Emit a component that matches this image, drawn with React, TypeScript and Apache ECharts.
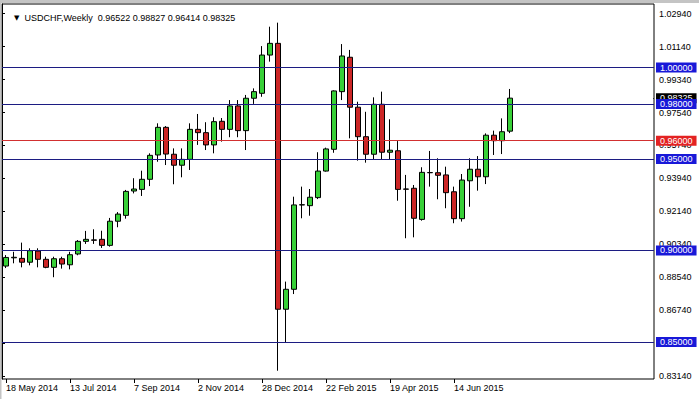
import React, { useEffect, useRef } from "react";
import * as echarts from "echarts";

// Weekly USDCHF candles, first week 18 May 2014
const opens = [
  0.8915, 0.8960, 0.8957, 0.8936, 0.8997, 0.8952, 0.8908, 0.8955, 0.8922, 0.8981,
  0.9050, 0.9058, 0.9061, 0.9028, 0.9160, 0.9192, 0.9325, 0.9334, 0.9389, 0.9522,
  0.9673, 0.9526, 0.9466, 0.9498, 0.9662, 0.9644, 0.9577, 0.9706, 0.9662, 0.9790,
  0.9655, 0.9832, 0.9859, 1.0068, 1.0132, 0.8679, 0.8788, 0.9249, 0.9245, 0.9289,
  0.9434, 0.9553, 0.9868, 1.0056, 0.9783, 0.9622, 0.9526, 0.9799, 0.9537, 0.9545,
  0.9336, 0.9340, 0.9170, 0.9425, 0.9425, 0.9413, 0.9321, 0.9174, 0.9381, 0.9444,
  0.9403, 0.9630, 0.9600, 0.96522,
];
const highs = [
  0.8975, 0.8993, 0.9043, 0.9012, 0.9012, 0.8966, 0.8966, 0.8966, 0.8993, 0.9057,
  0.9107, 0.9116, 0.9108, 0.9178, 0.9210, 0.9331, 0.9395, 0.9436, 0.9531, 0.9695,
  0.9680, 0.9558, 0.9558, 0.9695, 0.9746, 0.9701, 0.9728, 0.9724, 0.9822, 0.9822,
  0.9850, 0.9886, 1.0117, 1.0223, 1.0245, 0.8830, 0.9294, 0.9349, 0.9336, 0.9537,
  0.9562, 0.9875, 1.0128, 1.0096, 0.9813, 0.9758, 0.9837, 0.9868, 0.9717, 0.9598,
  0.9413, 0.9358, 0.9455, 0.9544, 0.9504, 0.9458, 0.9349, 0.9418, 0.9504, 0.9516,
  0.9640, 0.9655, 0.9722, 0.98827,
];
const lows = [
  0.8904, 0.8930, 0.8908, 0.8919, 0.8908, 0.8903, 0.8854, 0.8901, 0.8897, 0.8974,
  0.9036, 0.9036, 0.9014, 0.9021, 0.9127, 0.9174, 0.9312, 0.9298, 0.9352, 0.9485,
  0.9467, 0.9362, 0.9400, 0.9440, 0.9577, 0.9549, 0.9531, 0.9595, 0.9619, 0.9619,
  0.9549, 0.9801, 0.9840, 1.0032, 0.8343, 0.8496, 0.8762, 0.9176, 0.9190, 0.9281,
  0.9431, 0.9534, 0.9822, 0.9613, 0.9491, 0.9480, 0.9495, 0.9495, 0.9498, 0.9272,
  0.9067, 0.9072, 0.9163, 0.9349, 0.9280, 0.9231, 0.9149, 0.9158, 0.9239, 0.9327,
  0.9363, 0.9522, 0.9527, 0.96414,
];
const closes = [
  0.8962, 0.8963, 0.8936, 0.8999, 0.8952, 0.8908, 0.8955, 0.8926, 0.8977, 0.9050,
  0.9061, 0.9056, 0.9028, 0.9160, 0.9199, 0.9323, 0.9336, 0.9389, 0.9520, 0.9673,
  0.9527, 0.9466, 0.9498, 0.9662, 0.9644, 0.9577, 0.9704, 0.9662, 0.9790, 0.9655,
  0.9832, 0.9868, 1.0068, 1.0132, 0.8679, 0.8788, 0.9249, 0.9250, 0.9291, 0.9434,
  0.9555, 0.9872, 1.0063, 0.9783, 0.9622, 0.9526, 0.9799, 0.9537, 0.9548, 0.9334,
  0.9335, 0.9176, 0.9427, 0.9426, 0.9411, 0.9316, 0.9174, 0.9385, 0.9444, 0.9403,
  0.9630, 0.9600, 0.9649, 0.98325,
];

const priceTicks = [
  0.8314, 0.8494, 0.8674, 0.8854, 0.9034, 0.9214, 0.9394, 0.9574, 0.9754, 0.9934,
  1.0114, 1.0294,
];
const blueLevels = [1.0, 0.98, 0.95, 0.9, 0.85];
const redLevels = [0.96];
const currentPrice = 0.98325;
const headerText = "USDCHF,Weekly  0.96522 0.98827 0.96414 0.98325";

const MONTHS = ["Jan", "Feb", "Mar", "Apr", "May", "Jun", "Jul", "Aug", "Sep", "Oct", "Nov", "Dec"];
const TOTAL_SLOTS = 82; // includes empty right shift area
const startDate = Date.UTC(2014, 4, 18);
const categories: string[] = [];
for (let i = 0; i < TOTAL_SLOTS; i++) {
  const d = new Date(startDate + i * 7 * 86400000);
  categories.push(`${d.getUTCDate()} ${MONTHS[d.getUTCMonth()]} ${d.getUTCFullYear()}`);
}

const FONT = "Liberation Sans";
const Y_MIN = 0.82978;
const Y_MAX = 1.0347;

export default function App() {
  const ref = useRef<HTMLDivElement>(null);
  useEffect(() => {
    if (!ref.current) return;
    const chart = echarts.init(ref.current, undefined, { renderer: "svg" });
    const candleData = opens.map((o, i) => [o, closes[i], lows[i], highs[i]]);
    const nBars = opens.length;

    const levelLabel = (bg: string, fmt?: (p: any) => string) => ({
      show: true,
      position: "end",
      distance: 2,
      formatter: fmt || ((p: any) => Number(p.value).toFixed(5)),
      color: "#fff",
      backgroundColor: bg,
      opacity: 1,
      fontFamily: FONT,
      fontSize: 9,
      lineHeight: 9,
      padding: [1, 4, 0, 4],
    });

    const levelData: any[] = [
      ...redLevels.map((v) => ({
        yAxis: v,
        lineStyle: { color: "#d23030", width: 1, type: "solid" },
        label: levelLabel("#e32222"),
      })),
      ...blueLevels.map((v) => ({
        yAxis: v,
        lineStyle: { color: "#1c1c82", width: 1, type: "solid" },
        label: levelLabel("#1818d8"),
      })),
    ];

    chart.setOption({
      animation: false,
      backgroundColor: "#ffffff",
      title: {
        left: 9,
        top: 8,
        text: "{a|▼}  " + headerText,
        textStyle: {
          fontFamily: FONT,
          fontSize: 9,
          fontWeight: "normal",
          color: "#000",
          rich: { a: { fontSize: 7, color: "#000", fontFamily: "DejaVu Sans" } },
        },
      },
      graphic: [
        { type: "rect", shape: { x: 0, y: 0, width: 699, height: 3 }, style: { fill: "#c4c4c4" }, silent: true },
        { type: "rect", shape: { x: 0, y: 0, width: 1.5, height: 399 }, style: { fill: "#c4c4c4" }, silent: true },
      ],
      grid: [
        { left: 2, top: 4, width: 8 * TOTAL_SLOTS, height: 375, outerBoundsMode: "none", containLabel: false },
        {
          left: 2,
          top: 4,
          width: 652,
          height: 375,
          outerBoundsMode: "none",
          containLabel: false,
          show: true,
          borderColor: "#000",
          borderWidth: 1,
          backgroundColor: "transparent",
        },
      ],
      xAxis: [
        {
          type: "category",
          gridIndex: 0,
          data: categories,
          boundaryGap: true,
          axisLine: { show: false },
          axisTick: {
            show: true,
            alignWithLabel: true,
            length: 4,
            interval: (i: number) => i % 8 === 0 && i < nBars,
            lineStyle: { color: "#000" },
          },
          axisLabel: {
            show: true,
            interval: (i: number) => i % 8 === 0 && i < nBars,
            align: "left",
            margin: 4,
            color: "#000",
            fontFamily: FONT,
            fontSize: 9,
          },
          splitLine: { show: false },
        },
        { type: "value", gridIndex: 1, min: 0, max: 1, show: false },
      ],
      yAxis: [
        { type: "value", gridIndex: 0, min: Y_MIN, max: Y_MAX, show: false, scale: true },
        {
          type: "value",
          gridIndex: 1,
          position: "right",
          min: Y_MIN,
          max: Y_MAX,
          scale: true,
          splitLine: { show: false },
          axisLine: { show: true, lineStyle: { color: "#000" } },
          axisTick: {
            show: true,
            length: 3,
            customValues: priceTicks,
            lineStyle: { color: "#000" },
          },
          axisLabel: {
            show: true,
            customValues: priceTicks,
            formatter: (v: number) => v.toFixed(5),
            margin: 5,
            color: "#000",
            fontFamily: FONT,
            fontSize: 9,
          },
        },
      ],
      series: [
        {
          type: "candlestick",
          xAxisIndex: 0,
          yAxisIndex: 0,
          data: candleData,
          barWidth: 5,
          itemStyle: {
            color: "#38d038",
            color0: "#cc2626",
            borderColor: "#000",
            borderColor0: "#000",
            borderColorDoji: "#000",
            borderWidth: 1,
          },
          silent: true,
        },
        {
          type: "line",
          name: "bid",
          xAxisIndex: 1,
          yAxisIndex: 1,
          data: [],
          symbol: "none",
          silent: true,
          z: 3,
          markLine: {
            silent: true,
            symbol: ["none", "none"],
            animation: false,
            lineStyle: { color: "#000", width: 1, type: "solid" },
            label: levelLabel("#000000", () => currentPrice.toFixed(5)),
            data: [[{ coord: [0.999, currentPrice] }, { coord: [1, currentPrice] }]],
          },
        },
        {
          type: "line",
          name: "levels",
          xAxisIndex: 1,
          yAxisIndex: 1,
          data: [],
          symbol: "none",
          silent: true,
          z: 4,
          markLine: {
            silent: true,
            symbol: ["none", "none"],
            animation: false,
            data: levelData,
          },
        },
      ],
    });
    return () => chart.dispose();
  }, []);
  return (
    <div
      ref={ref}
      style={{ position: "fixed", left: 0, top: 0, width: 699, height: 399, background: "#fff" }}
    />
  );
}
